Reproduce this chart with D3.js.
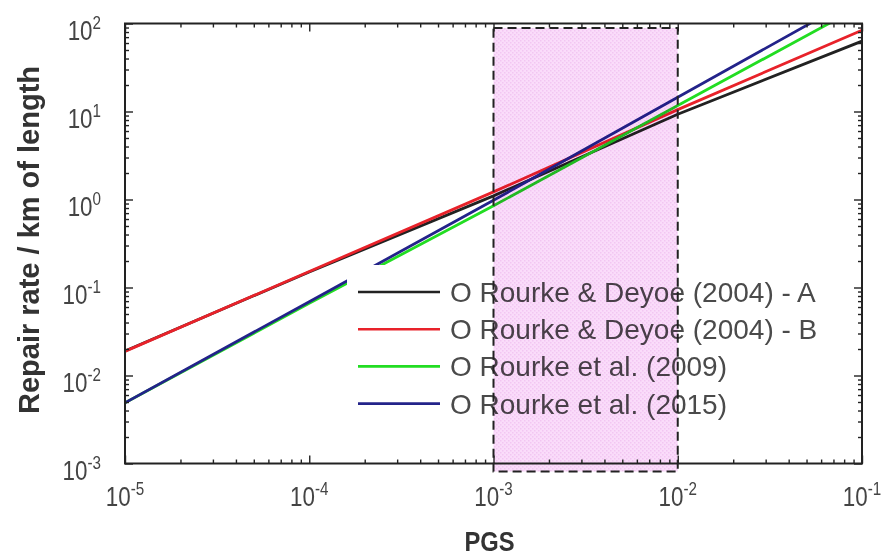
<!DOCTYPE html>
<html>
<head>
<meta charset="utf-8">
<script src="https://cdn.jsdelivr.net/npm/d3@7"></script>
<style>
    body { margin: 0; background: #fff; }
    svg { display: block; font-family: "Liberation Sans", Arial, sans-serif; }
</style>
</head>
<body>
<svg id="chart" width="887" height="559"></svg>
<script>
// values (PGS decades vs repair rate per km)
const pgs = [1e-5, 1e-4, 1e-3, 1e-2, 1e-1];
const rateDeyoeA = [0.019, 0.15, 1.1, 9.3, 63];
const rateDeyoeB = [0.0188, 0.152, 1.22, 10.5, 84];
const rate2009 = [0.0049, 0.066, 0.85, 11.7, 160];
const rate2015 = [0.0049, 0.069, 0.98, 14.5, 214];

const seriesNames = ['O Rourke & Deyoe (2004) - A', 'O Rourke & Deyoe (2004) - B', 'O Rourke et al. (2009)', 'O Rourke et al. (2015)'];
const seriesColors = ['#222222', '#e8222a', '#22dd22', '#23238a'];

const xTickExps = [-5, -4, -3, -2, -1];
const yTickExps = [-3, -2, -1, 0, 1, 2];

// shaded PGS band
const bandPgs = [1e-3, 1e-2];
const bandRate = [0.00081, 89];

const svg = d3.select('#chart');
const pLeft = 125, pRight = 862, pTop = 23.5, pBottom = 463.5;

const x = d3.scaleLog().domain([1e-5, 1e-1]).range([pLeft, pRight]);
const y = d3.scaleLog().domain([1e-3, 1e2]).range([pBottom, pTop]);

const defs = svg.append('defs');
defs.append('clipPath').attr('id', 'plot-clip')
    .append('rect')
    .attr('x', pLeft).attr('y', pTop)
    .attr('width', pRight - pLeft).attr('height', pBottom - pTop);

// dotted pink fill like the printed halftone
const pat = defs.append('pattern').attr('id', 'pink-dots')
    .attr('width', 4).attr('height', 4).attr('patternUnits', 'userSpaceOnUse');
pat.append('rect').attr('width', 4).attr('height', 4).style('fill', '#fadcfa');
pat.append('rect').attr('width', 1.5).attr('height', 1.5).style('fill', '#f2c6f2');
pat.append('rect').attr('x', 2).attr('y', 2).attr('width', 1.5).attr('height', 1.5).style('fill', '#f2c6f2');

const series = [rateDeyoeA, rateDeyoeB, rate2009, rate2015].map((vals, i) => ({
    name: seriesNames[i],
    color: seriesColors[i],
    points: pgs.map((p, j) => ({ pgs: p, rate: vals[j] }))
}));

const line = d3.line().x(d => x(d.pgs)).y(d => y(d.rate));

svg.append('g')
    .attr('clip-path', 'url(#plot-clip)')
    .selectAll('path')
    .data(series)
    .enter()
    .append('path')
    .attr('d', d => line(d.points))
    .style('fill', 'none')
    .style('stroke', d => d.color)
    .style('stroke-width', '2.8px');

// legend (white box hides the lines behind it)
const legend = svg.append('g').attr('transform', 'translate(347,265)');
legend.append('rect')
    .attr('width', 500).attr('height', 162)
    .style('fill', '#fff');

const item = legend.selectAll('g.item')
    .data(series)
    .enter()
    .append('g')
    .attr('class', 'item')
    .attr('transform', (d, i) => 'translate(0,' + (27 + i * 37.2) + ')');

item.append('line')
    .attr('x1', 11).attr('x2', 93)
    .style('stroke', d => d.color)
    .style('stroke-width', '2.6px');

item.append('text')
    .attr('x', 103).attr('y', 10)
    .text(d => d.name)
    .style('font-size', '28px')
    .style('fill', '#4a4a4a');

// pink band on top, multiplied so lines and text show through
svg.append('rect')
    .attr('x', x(bandPgs[0]))
    .attr('y', y(bandRate[1]))
    .attr('width', x(bandPgs[1]) - x(bandPgs[0]))
    .attr('height', y(bandRate[0]) - y(bandRate[1]))
    .style('fill', 'url(#pink-dots)')
    .style('mix-blend-mode', 'multiply');

// ticks, all four sides, pointing inward
const minorX = [], minorY = [];
for (let e = -5; e < -1; e++) for (let k = 2; k < 10; k++) minorX.push(k * Math.pow(10, e));
for (let e = -3; e < 2; e++) for (let k = 2; k < 10; k++) minorY.push(k * Math.pow(10, e));
const majorX = xTickExps.map(e => Math.pow(10, e));
const majorY = yTickExps.map(e => Math.pow(10, e));

function ticks(axis, pos, vals, size) {
    const g = svg.append('g')
        .attr('transform', pos)
        .call(axis.tickValues(vals).tickSize(size).tickSizeOuter(0).tickFormat(''));
    g.select('.domain').remove();
    g.selectAll('line').style('stroke', '#222').style('stroke-width', '1.4px');
}
ticks(d3.axisBottom(x), 'translate(0,' + pBottom + ')', minorX, -4);
ticks(d3.axisBottom(x), 'translate(0,' + pBottom + ')', majorX, -8);
ticks(d3.axisTop(x), 'translate(0,' + pTop + ')', minorX, -4);
ticks(d3.axisTop(x), 'translate(0,' + pTop + ')', majorX, -8);
ticks(d3.axisLeft(y), 'translate(' + pLeft + ',0)', minorY, -4);
ticks(d3.axisLeft(y), 'translate(' + pLeft + ',0)', majorY, -8);
ticks(d3.axisRight(y), 'translate(' + pRight + ',0)', minorY, -4);
ticks(d3.axisRight(y), 'translate(' + pRight + ',0)', majorY, -8);

svg.append('rect')
    .attr('x', pLeft).attr('y', pTop)
    .attr('width', pRight - pLeft).attr('height', pBottom - pTop)
    .style('fill', 'none')
    .style('stroke', '#222')
    .style('stroke-width', '2px');

// dashed outline of the band
svg.append('rect')
    .attr('x', x(bandPgs[0]))
    .attr('y', y(bandRate[1]))
    .attr('width', x(bandPgs[1]) - x(bandPgs[0]))
    .attr('height', y(bandRate[0]) - y(bandRate[1]))
    .style('fill', 'none')
    .style('stroke', '#222')
    .style('stroke-width', '2px')
    .style('stroke-dasharray', '9,5');

// tick labels 10^n
function powLabel(g, e, anchor) {
    const t = g.append('text')
        .attr('transform', 'scale(0.8,1)')
        .style('text-anchor', anchor)
        .style('fill', '#444');
    t.append('tspan').text('10').style('font-size', '28px');
    t.append('tspan').text(e).attr('dy', -11).style('font-size', '19px');
}

xTickExps.forEach(e => {
    const g = svg.append('g').attr('transform', 'translate(' + x(Math.pow(10, e)) + ',506)');
    powLabel(g, e, 'middle');
});
yTickExps.forEach(e => {
    const g = svg.append('g').attr('transform', 'translate(101,' + (y(Math.pow(10, e)) + 16) + ')');
    powLabel(g, e, 'end');
});

svg.append('text')
    .attr('transform', 'translate(' + ((pLeft + pRight) / 2 - 4) + ',551) scale(0.88,1)')
    .style('text-anchor', 'middle')
    .style('font-weight', 'bold')
    .style('font-size', '27px')
    .style('fill', '#333')
    .text('PGS');

svg.append('text')
    .attr('transform', 'translate(39,240) rotate(-90)')
    .style('text-anchor', 'middle')
    .style('font-weight', 'bold')
    .style('font-size', '29px')
    .style('fill', '#333')
    .text('Repair rate / km of length');
</script>
</body>
</html>
